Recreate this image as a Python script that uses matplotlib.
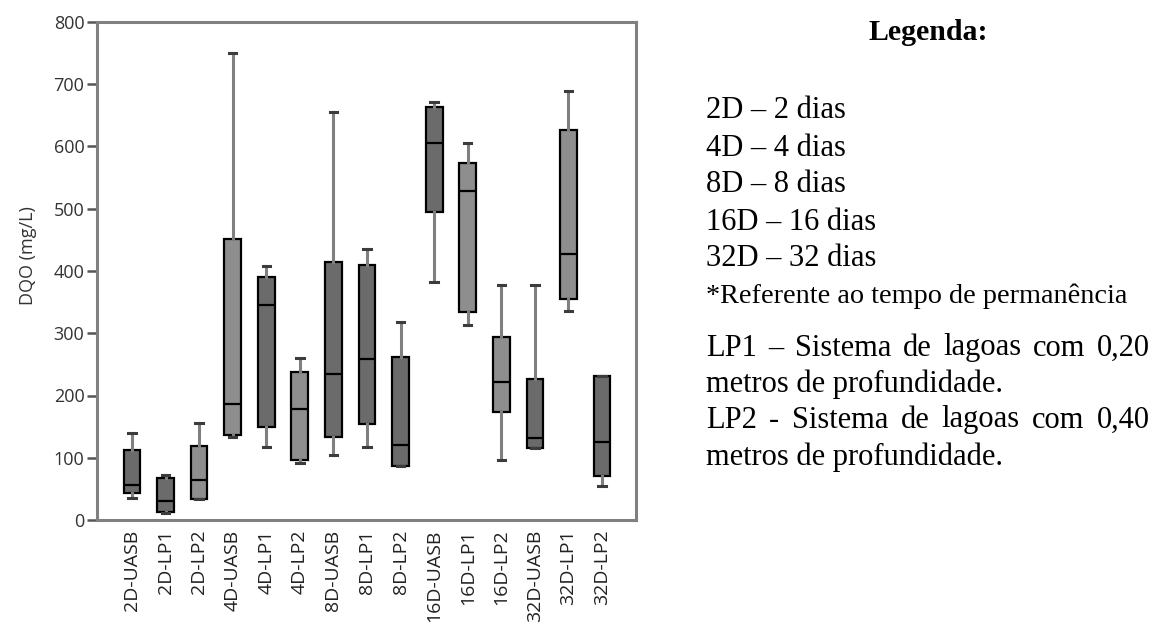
import matplotlib
matplotlib.use("Agg")
import matplotlib.pyplot as plt

categories = ["2D-UASB", "2D-LP1", "2D-LP2", "4D-UASB", "4D-LP1", "4D-LP2",
              "8D-UASB", "8D-LP1", "8D-LP2", "16D-UASB", "16D-LP1", "16D-LP2",
              "32D-UASB", "32D-LP1", "32D-LP2"]
whislo = [36, 11, 33, 133, 118, 92, 104, 118, 86, 383, 313, 96, 115, 335, 55]
q1 = [44, 13, 34, 136, 150, 96, 133, 154, 87, 494, 334, 173, 116, 355, 70]
med = [57, 30, 65, 187, 346, 178, 234, 259, 120, 606, 528, 221, 132, 427, 126]
q3 = [113, 68, 119, 452, 391, 237, 414, 410, 262, 663, 573, 294, 226, 627, 231]
whishi = [139, 73, 156, 750, 408, 261, 655, 435, 318, 672, 606, 377, 377, 689, 231]
shade = ["dark", "dark", "light", "light", "dark", "light", "dark", "dark", "dark",
         "dark", "light", "light", "dark", "light", "dark"]
yticks = [0, 100, 200, 300, 400, 500, 600, 700, 800]

legend_title = "Legenda:"
legend_lines = ["2D \u2013 2 dias", "4D \u2013 4 dias", "8D \u2013 8 dias",
                "16D \u2013 16 dias", "32D \u2013 32 dias"]
legend_note = "*Referente ao tempo de permanência"
legend_para = [("LP1 \u2013 Sistema de lagoas com 0,20", True),
               ("metros de profundidade.", False),
               ("LP2 - Sistema de lagoas com 0,40", True),
               ("metros de profundidade.", False)]

W, H = 1176, 625
fig = plt.figure(figsize=(W / 100, H / 100), dpi=100)
ax = fig.add_axes([97 / W, 1 - 520 / H, (636 - 97) / W, (520 - 22) / H])

colors = {"dark": "#6b6b6b", "light": "#8e8e8e"}
stats = [dict(label=c, whislo=a, q1=b, med=m, q3=d, whishi=e, fliers=[])
         for c, a, b, m, d, e in zip(categories, whislo, q1, med, q3, whishi)]
positions = list(range(1, len(categories) + 1))
bp = ax.bxp(stats, positions=positions, widths=0.5, patch_artist=True,
            showfliers=False,
            boxprops=dict(edgecolor="black", linewidth=1.6),
            medianprops=dict(color="black", linewidth=1.6),
            whiskerprops=dict(color="#808080", linewidth=2.2),
            capprops=dict(color="#3c3c3c", linewidth=2.2),
            capwidths=0.22)
for patch, s in zip(bp["boxes"], shade):
    patch.set_facecolor(colors[s])

ax.set_xlim(-0.04, 16.01)
ax.set_ylim(0, 800)
ax.set_yticks(yticks)
ax.set_xticks(positions)
ax.set_xticklabels(categories, rotation=90, fontsize=14, family="Open Sans", color="#222222")
ax.tick_params(axis="x", length=0, pad=7)
ax.tick_params(axis="y", length=7, width=1.8, color="#555555", labelsize=13, labelcolor="#333333", pad=2)
for lbl in ax.get_yticklabels():
    lbl.set_family("Open Sans")
for sp in ax.spines.values():
    sp.set_color("#808080")
    sp.set_linewidth(2.2)
ax.set_ylabel("DQO (mg/L)", fontsize=13, family="Open Sans", color="#333333")
ax.yaxis.set_label_coords(-0.112, 0.53)

serif = "Liberation Serif"
fs = 22
fig.text(928 / W, 1 - 33 / H, legend_title, fontsize=21.5, weight="bold", family=serif,
         ha="center", va="center")
ys = [111, 148, 184, 222, 258]
for line, y in zip(legend_lines, ys):
    fig.text(706 / W, 1 - y / H, line, fontsize=fs, family=serif, va="center")
fig.text(706 / W, 1 - 296 / H, legend_note, fontsize=20.3, family=serif, va="center")

# justified paragraph
renderer = fig.canvas.get_renderer()
x0, x1 = 706, 1150
pys = [348, 384, 420, 457]
for (line, just), y in zip(legend_para, pys):
    if not just:
        fig.text(x0 / W, 1 - y / H, line, fontsize=fs, family=serif, va="center")
        continue
    words = line.split(" ")
    texts = [fig.text(0, 0, w, fontsize=fs, family=serif, va="center") for w in words]
    widths = [t.get_window_extent(renderer).width for t in texts]
    gap = ((x1 - x0) - sum(widths)) / (len(words) - 1)
    x = x0
    for t, w in zip(texts, widths):
        t.set_position((x / W, 1 - y / H))
        x += w + gap

fig.savefig("out.png", dpi=100)
